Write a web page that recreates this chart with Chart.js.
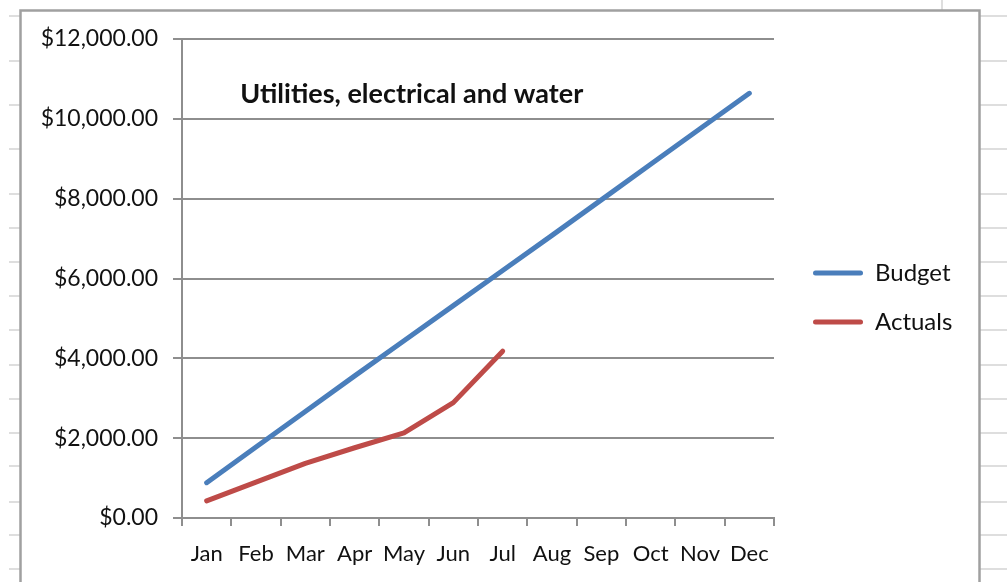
<!DOCTYPE html>
<html>
<head>
<meta charset="utf-8">
<script src="https://cdn.jsdelivr.net/npm/chart.js@4/dist/chart.umd.min.js"></script>
<style>
html,body{margin:0;padding:0;background:#fff;}
#wrap{position:relative;width:1007px;height:582px;}
</style>
</head>
<body>
<div id="wrap"><canvas id="c"></canvas></div>
<script>
// ---- data ----
const chartTitle = 'Utilities, electrical and water';
const months = ['Jan','Feb','Mar','Apr','May','Jun','Jul','Aug','Sep','Oct','Nov','Dec'];
const seriesNames = ['Budget','Actuals'];
const budget = [885, 1780, 2670, 3560, 4440, 5320, 6200, 7080, 7970, 8860, 9750, 10640];
const actuals = [430, 900, 1370, 1760, 2130, 2890, 4180];
const yTickValues = [0, 2000, 4000, 6000, 8000, 10000, 12000];

// ---- styles ----
const FONT = 'Lato';
const TEXT = '#111111';
const GRID = '#8e8e8e';
const BLUE = '#4A7EBB';
const RED = '#BE4B48';
const sheetRows = [16, 61, 105, 149, 194, 228, 262, 296, 330, 365, 399, 433, 466, 502, 535, 569];

const sheetPlugin = {
  id: 'sheet',
  beforeDraw(chart) {
    const ctx = chart.ctx;
    const W = chart.width, H = chart.height;
    ctx.save();
    ctx.fillStyle = '#ffffff';
    ctx.fillRect(0, 0, W, H);
    ctx.strokeStyle = '#dedede';
    ctx.lineWidth = 2;
    sheetRows.forEach(y => {
      ctx.beginPath(); ctx.moveTo(9, y); ctx.lineTo(20, y); ctx.stroke();
      ctx.beginPath(); ctx.moveTo(980, y); ctx.lineTo(W, y); ctx.stroke();
    });
    ctx.beginPath(); ctx.moveTo(942, 0); ctx.lineTo(942, 10); ctx.stroke();
    ctx.strokeStyle = '#a0a0a0';
    ctx.lineWidth = 2.5;
    ctx.strokeRect(20.5, 10.5, 959, H + 20);
    ctx.restore();
  }
};

const titlePlugin = {
  id: 'insideTitle',
  afterDraw(chart) {
    const {ctx, chartArea} = chart;
    ctx.save();
    ctx.font = 'bold 27px ' + FONT;
    ctx.fillStyle = TEXT;
    ctx.textAlign = 'center';
    ctx.textBaseline = 'alphabetic';
    ctx.fillText(chartTitle, chartArea.left + (chartArea.right - chartArea.left) * 0.388, chartArea.top + 64);
    ctx.restore();
  }
};

function money(v) {
  return '$' + Number(v).toLocaleString('en-US', {minimumFractionDigits: 2, maximumFractionDigits: 2});
}

async function build() {
  try {
    await document.fonts.load('22px ' + FONT);
    await document.fonts.load('bold 27px ' + FONT);
  } catch (e) {}
  const config = {
    type: 'line',
    data: {
      labels: months,
      datasets: [
        {label: seriesNames[0], data: budget, borderColor: BLUE, backgroundColor: BLUE, borderWidth: 5,
         pointRadius: 0, tension: 0, borderCapStyle: 'round', borderJoinStyle: 'round', yAxisID: 'y', xAxisID: 'x'},
        {label: seriesNames[1], data: actuals, borderColor: RED, backgroundColor: RED, borderWidth: 5,
         pointRadius: 0, tension: 0, borderCapStyle: 'round', borderJoinStyle: 'round', yAxisID: 'y', xAxisID: 'x'}
      ]
    },
    options: {
      responsive: true,
      maintainAspectRatio: false,
      animation: false,
      layout: {padding: {top: 13, left: 0, right: 20, bottom: 0}},
      scales: {
        x: {
          type: 'category',
          position: 'bottom',
          offset: true,
          grid: {offset: true, drawOnChartArea: false, drawTicks: true, tickLength: 8, color: GRID, lineWidth: 2},
          border: {color: GRID, width: 2},
          ticks: {autoSkip: false, maxRotation: 0, minRotation: 0, padding: 15, font: {family: FONT, size: 22}, color: TEXT},
          afterFit(s) { s.height = 64; }
        },
        xTopSpacer: {
          type: 'category',
          position: 'top',
          display: true,
          grid: {display: false, drawTicks: false},
          border: {display: false},
          ticks: {display: false},
          afterFit(s) { s.height = 26; }
        },
        y: {
          type: 'linear',
          min: 0,
          max: 12000,
          afterBuildTicks(s) { s.ticks = yTickValues.map(v => ({value: v})); },
          grid: {color: GRID, lineWidth: 2, tickLength: 9},
          border: {color: GRID, width: 2},
          ticks: {padding: 15, font: {family: FONT, size: 23}, color: TEXT, callback: v => money(v)},
          afterFit(s) { s.width = 182; }
        },
        yRightSpacer: {
          type: 'linear',
          position: 'right',
          display: true,
          grid: {display: false, drawTicks: false},
          border: {display: false},
          ticks: {display: false},
          afterFit(s) { s.width = 14; }
        }
      },
      plugins: {
        title: {display: false},
        tooltip: {enabled: false},
        legend: {
          position: 'right',
          maxWidth: 300,
          labels: {
            font: {family: FONT, size: 24},
            color: TEXT,
            boxWidth: 50,
            boxHeight: 5,
            padding: 25,
            useBorderRadius: true,
            borderRadius: 2.5,
            generateLabels(chart) {
              const items = Chart.defaults.plugins.legend.labels.generateLabels(chart);
              items.forEach(it => { it.fillStyle = it.strokeStyle; it.lineWidth = 0; });
              return items;
            }
          }
        }
      }
    },
    plugins: [sheetPlugin, titlePlugin]
  };
  const chart = new Chart(document.getElementById('c'), config);
  const dx = chart.chartArea.right - 774;
  if (Math.abs(dx) > 0.5) {
    chart.options.layout.padding.right += dx;
    chart.update('none');
  }
}
build();
</script>
</body>
</html>
